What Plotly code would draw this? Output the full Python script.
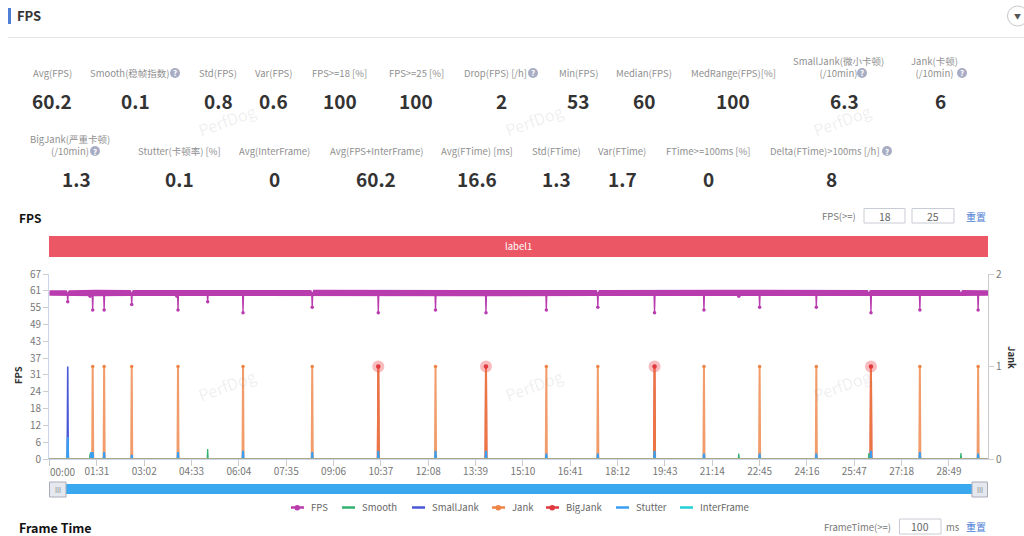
import plotly.graph_objects as go

# values, time in seconds
end_time = 1804
tick_seconds = [0, 91, 182, 273, 364, 455, 546, 637, 728, 819, 910, 1001, 1092, 1183, 1274, 1365, 1456, 1547, 1638, 1729]
tick_labels = ["", "01:31", "03:02", "04:33", "06:04", "07:35", "09:06", "10:37", "12:08", "13:39",
               "15:10", "16:41", "18:12", "19:43", "21:14", "22:45", "24:16", "25:47", "27:18", "28:49"]
fps_ticks = [0, 6.1, 12.2, 18.3, 24.4, 30.5, 36.6, 42.7, 48.8, 54.9, 61, 67.1]
fps_tick_labels = ["0", "6", "12", "18", "24", "31", "37", "43", "49", "55", "61", "67"]

band_times = [0, 33, 35, 37, 90, 156, 158, 160, 300, 503, 505, 507, 800, 1052, 1054, 1056, 1300, 1573, 1575, 1577, 1750, 1752, 1754, 1804]
band_top = [61.2, 61.2, 60.4, 61.2, 61.4, 61.3, 60.4, 61.3, 61.3, 61.3, 60.4, 61.4, 61.3, 61.3, 60.4, 61.3, 61.4, 61.3, 60.5, 61.3, 61.3, 60.4, 61.3, 61.2]
band_bottom = [59.2, 59.1, 59.0, 59.1, 59.0, 59.1, 59.0, 59.1, 59.1, 59.0, 59.1, 59.1, 59.0, 59.1, 59.0, 59.1, 59.1, 59.0, 59.1, 59.1, 59.0, 59.1, 59.1, 59.2]

dip_times = [35, 78, 83, 105, 158, 245, 247, 304, 372, 505, 632, 742, 839, 955, 1054, 1163, 1258, 1325, 1365, 1474, 1579, 1673, 1785]
dip_values = [57, 59, 54, 54, 56, 59, 54, 57, 53, 55, 53, 54, 53, 54, 55, 53, 54, 59, 55, 55, 53, 54, 54]

smooth_times = [78, 304, 1325, 1575, 1752]
smooth_values = [2, 3.6, 2, 2.2, 2.2]
smalljank_times = [35]
smalljank_values = [1]
jank_times = [83, 105, 158, 247, 372, 505, 632, 742, 839, 955, 1054, 1163, 1258, 1365, 1474, 1579, 1673, 1785]
jank_values = [1] * 18
bigjank_times = [632, 839, 1163, 1579]
bigjank_values = [1, 1, 1, 1]
stutter_times = [35, 80, 83, 105, 158, 247, 372, 505, 632, 742, 839, 955, 1054, 1163, 1258, 1365, 1474, 1579, 1673, 1785]
stutter_values = [8, 2.5, 2.5, 2.5, 1.5, 2.5, 3, 2.5, 3, 3, 3, 2, 2, 3, 2, 2, 2, 3, 2.5, 2]
interframe_times = [0, 1804]
interframe_values = [0, 0]

# stat blocks
row1_names = ["Avg(FPS)", "Smooth(稳帧指数)", "Std(FPS)", "Var(FPS)", "FPS>=18 [%]", "FPS>=25 [%]", "Drop(FPS) [/h]",
              "Min(FPS)", "Median(FPS)", "MedRange(FPS)[%]", "SmallJank(微小卡顿)<br>(/10min)", "Jank(卡顿)<br>(/10min)"]
row1_values = ["60.2", "0.1", "0.8", "0.6", "100", "100", "2", "53", "60", "100", "6.3", "6"]
row2_names = ["BigJank(严重卡顿)<br>(/10min)", "Stutter(卡顿率) [%]", "Avg(InterFrame)", "Avg(FPS+InterFrame)", "Avg(FTime) [ms]",
              "Std(FTime)", "Var(FTime)", "FTime>=100ms [%]", "Delta(FTime)>100ms [/h]"]
row2_values = ["1.3", "0.1", "0", "60.2", "16.6", "1.3", "1.7", "0", "8"]

row1_name_x = [52, 130, 218, 273.5, 339, 416, 495, 578, 644, 733, 838, 934]
row1_value_x = [52, 135, 218, 273.5, 340, 416, 501, 578, 644, 733, 844, 940]
row2_name_x = [70, 179, 274, 376, 477, 556, 622, 708, 825]
row2_value_x = [76, 179, 274, 376, 477, 556, 622, 708, 831]
help_icons = [(175, 73), (533, 73), (862, 73), (962, 73), (95, 151), (887, 151)]

FPS_COLOR = "#b93cae"
SMOOTH_COLOR = "#2fb36f"
SMALLJANK_COLOR = "#4a57d6"
JANK_COLOR = "#ee8445"
BIGJANK_COLOR = "#e0393f"
STUTTER_COLOR = "#3a9ff0"
INTERFRAME_COLOR = "#22cfd6"
W, H = 1024, 536


def spikes(times, values, base=0):
    # every spike goes up from the baseline and back within a second
    xs, ys = [0], [base]
    for t, v in zip(times, values):
        xs += [t - 1, t, t + 1]
        ys += [base, v, base]
    xs.append(end_time)
    ys.append(base)
    return xs, ys


def fx(px):
    return px / W


def fy(px):
    return 1 - px / H


annotations = []
shapes = []


def text(x, y, s, size=9.5, color="#909090", bold=False, anchor="center", angle=0):
    annotations.append(dict(
        x=fx(x), y=fy(y), xref="paper", yref="paper", text=f"<b>{s}</b>" if bold else s,
        showarrow=False, xanchor=anchor, yanchor="middle", textangle=angle,
        font=dict(size=size, color=color),
    ))


def rect(x0, y0, x1, y1, fill=None, line=None, width=1, kind="rect"):
    shapes.append(dict(
        type=kind, xref="paper", yref="paper", x0=fx(x0), x1=fx(x1), y0=fy(y0), y1=fy(y1),
        fillcolor=fill if fill else "rgba(0,0,0,0)",
        line=dict(color=line if line else "rgba(0,0,0,0)", width=width if line else 0),
    ))


fig = go.Figure()

# Jank family on the right axis, lies under the left axis traces
sx, sy = spikes(smalljank_times, smalljank_values)
fig.add_trace(go.Scatter(x=sx, y=sy, mode="lines", line=dict(width=1.6, color=SMALLJANK_COLOR), yaxis="y2"))
sx, sy = spikes(bigjank_times, bigjank_values)
fig.add_trace(go.Scatter(x=sx, y=sy, mode="lines", line=dict(width=2, color=BIGJANK_COLOR), yaxis="y2"))
sx, sy = spikes(jank_times, jank_values)
fig.add_trace(go.Scatter(x=sx, y=sy, mode="lines", line=dict(width=2, color=JANK_COLOR), opacity=0.8, yaxis="y2"))
fig.add_trace(go.Scatter(x=jank_times, y=jank_values, mode="markers", marker=dict(size=3.5, color=JANK_COLOR), yaxis="y2"))
fig.add_trace(go.Scatter(x=bigjank_times, y=bigjank_values, mode="markers",
                         marker=dict(size=12, color="rgba(240,80,85,0.38)"), yaxis="y2"))
fig.add_trace(go.Scatter(x=bigjank_times, y=bigjank_values, mode="markers",
                         marker=dict(size=4.5, color=BIGJANK_COLOR), yaxis="y2"))

# FPS band and dips
fig.add_trace(go.Scatter(x=band_times, y=band_bottom, mode="lines", line=dict(width=0, color=FPS_COLOR), yaxis="y"))
fig.add_trace(go.Scatter(x=band_times, y=band_top, mode="lines", line=dict(width=0, color=FPS_COLOR), fill="tonexty",
                         fillcolor=FPS_COLOR, yaxis="y"))
dx, dy = spikes(dip_times, dip_values, base=60)
fig.add_trace(go.Scatter(x=dx, y=dy, mode="lines", line=dict(width=1.3, color=FPS_COLOR), yaxis="y"))
fig.add_trace(go.Scatter(x=dip_times, y=dip_values, mode="markers", marker=dict(size=3.5, color=FPS_COLOR), yaxis="y"))

sx, sy = spikes(smooth_times, smooth_values)
fig.add_trace(go.Scatter(x=sx, y=sy, mode="lines", line=dict(width=1.2, color=SMOOTH_COLOR), yaxis="y"))
sx, sy = spikes(stutter_times, stutter_values)
fig.add_trace(go.Scatter(x=sx, y=sy, mode="lines", line=dict(width=2, color=STUTTER_COLOR), yaxis="y"))
fig.add_trace(go.Scatter(x=interframe_times, y=interframe_values, mode="lines", line=dict(width=1.5, color=INTERFRAME_COLOR), yaxis="y"))
# jank sits at zero over everything else between spikes
fig.add_trace(go.Scatter(x=interframe_times, y=interframe_values, mode="lines", line=dict(width=1.6, color="#dca06a"), yaxis="y"))

# page header
rect(8, 8, 11, 24, fill="#4f7fd6")
text(14.5, 16, "FPS", size=13, color="#333", bold=True, anchor="left")
shapes.append(dict(type="line", xref="paper", yref="paper", x0=fx(8), x1=1, y0=fy(37.5), y1=fy(37.5),
                   line=dict(color="#e3e5ea", width=1)))
rect(1007.5, 6, 1028, 26, fill="#ffffff", line="#c4c6cc")
shapes[-1]["type"] = "circle"
text(1017.5, 16, "▼", size=7, color="#555")

# stats
for name, value, nx, vx in zip(row1_names, row1_values, row1_name_x, row1_value_x):
    text(nx, 67 if "<br>" in name else 73, name)
    text(vx, 100.5, value, size=19, color="#333", bold=True)
for name, value, nx, vx in zip(row2_names, row2_values, row2_name_x, row2_value_x):
    text(nx, 145 if "<br>" in name else 151, name)
    text(vx, 178.5, value, size=19, color="#333", bold=True)
for ix, iy in help_icons:
    rect(ix - 5, iy - 5, ix + 5, iy + 5, fill="#a9adc4", kind="circle")
    text(ix, iy, "?", size=8, color="#ffffff", bold=True)

# FPS chart header and threshold boxes
text(17, 217, "FPS", size=12, color="#111", bold=True, anchor="left")
text(820, 216, "FPS(>=)", size=9.5, color="#777", anchor="left")
rect(864, 208.5, 905, 223, line="#c8ccd4")
text(884.5, 216, "18", size=10.5, color="#666")
rect(912, 208.5, 954, 223, line="#c8ccd4")
text(933, 216, "25", size=10.5, color="#666")
text(976, 216, "重置", size=10, color="#4f7fd6")

# label bar
rect(49, 236, 988, 257, fill="#ec5766")
text(518, 246.5, "label1", size=9.5, color="#ffffff")

# axis names, first tick label
text(18, 375, "FPS", size=9.5, color="#333", bold=True, angle=-90)
text(1012, 357, "Jank", size=9.5, color="#333", bold=True, angle=90)
text(48, 471, "00:00", size=10, color="#777", anchor="left")

# zoom slider
rect(60, 484, 975, 494, fill="#3aa8ef")
for x0, x1 in [(49.5, 66), (972, 987.5)]:
    rect(x0, 482, x1, 497, fill="#e6e8ef", line="#a8abb8")
    text((x0 + x1) / 2, 489.5, "III", size=7, color="#888")

# legend
legend_items = [("FPS", FPS_COLOR, 291, True), ("Smooth", SMOOTH_COLOR, 342, False), ("SmallJank", SMALLJANK_COLOR, 412, False),
                ("Jank", JANK_COLOR, 492, True), ("BigJank", BIGJANK_COLOR, 546, True), ("Stutter", STUTTER_COLOR, 616, False),
                ("InterFrame", INTERFRAME_COLOR, 680, False)]
for name, color, lx, dot in legend_items:
    shapes.append(dict(type="line", xref="paper", yref="paper", x0=fx(lx), x1=fx(lx + 13), y0=fy(507.5), y1=fy(507.5),
                       line=dict(color=color, width=2.5)))
    if dot:
        rect(lx + 3.5, 505, lx + 9, 510.5, fill=color, kind="circle")
    text(lx + 18, 507, name, size=9.5, color="#666", anchor="left")

# Frame Time header below
text(17, 527.5, "Frame Time", size=12.5, color="#111", bold=True, anchor="left")
text(822, 527, "FrameTime(>=)", size=9.5, color="#777", anchor="left")
rect(899.5, 519, 941, 534, line="#c8ccd4")
text(920, 526.5, "100", size=10.5, color="#666")
text(953, 527, "ms", size=9.5, color="#777")
text(976, 526, "重置", size=10, color="#4f7fd6")

# watermarks
for wx, wy in [(227, 120), (534, 120), (842, 120), (227, 385), (534, 385), (842, 385)]:
    text(wx, wy, "PerfDog", size=16, color="rgba(120,120,130,0.13)", angle=-20)

axis_line = "#ccd6eb"
fig.update_layout(
    width=W, height=H,
    margin=dict(l=0, r=0, t=0, b=0, autoexpand=False),
    paper_bgcolor="#ffffff", plot_bgcolor="#ffffff",
    showlegend=False,
    font=dict(family="Noto Sans CJK SC", size=10, color="#777"),
    annotations=annotations,
    shapes=shapes,
    xaxis=dict(domain=[fx(49), fx(988)], range=[-1, end_time], tickmode="array", tickvals=tick_seconds, ticktext=tick_labels,
               showgrid=False, zeroline=False, showline=True, linecolor=axis_line, ticks="outside", ticklen=6,
               tickcolor="#ccc", tickfont=dict(size=10, color="#777"), anchor="y2", automargin=False, ticklabelstandoff=-3),
    yaxis2=dict(domain=[fy(459), fy(274)], range=[0, 2], tickmode="array", tickvals=[0, 1, 2], ticktext=["0", "1", "2"],
                side="right", anchor="x", showgrid=False, zeroline=False, showline=True, linecolor="#ccc",
                ticks="outside", ticklen=5, tickcolor="#ccc", tickfont=dict(size=10, color="#777"), automargin=False),
    yaxis=dict(domain=[fy(459), fy(274)], range=[0, 67.1], tickmode="array", tickvals=fps_ticks, ticktext=fps_tick_labels,
               overlaying="y2", side="left", anchor="x", showgrid=False, zeroline=False, showline=True, linecolor=axis_line,
               ticks="outside", ticklen=5, tickcolor="#ccc", tickfont=dict(size=10, color="#777"), automargin=False),
)

fig.write_html("out.html", config=dict(displayModeBar=False), post_script="document.body.style.margin='0';")
